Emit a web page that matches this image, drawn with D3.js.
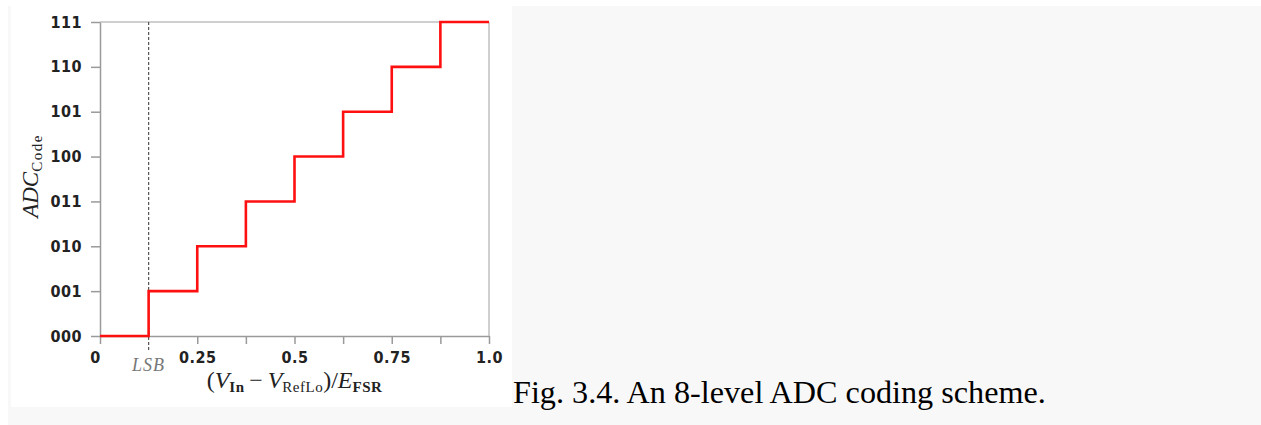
<!DOCTYPE html>
<html>
<head>
<meta charset="utf-8">
<script src="https://cdn.jsdelivr.net/npm/d3@7"></script>
<style>
  html, body { margin: 0; padding: 0; background: #fff; overflow: hidden; }
  svg { display: block; }
  .axis text { font-family: 'DejaVu Sans Condensed', 'DejaVu Sans', sans-serif; font-weight: bold; font-size: 16px; fill: #222; letter-spacing: 0.5px; }
  .axis path, .axis line { stroke: #9a9a9a; stroke-width: 1.5; }
  .math { font-family: 'Liberation Serif', 'DejaVu Serif', serif; fill: #222; }
</style>
</head>
<body>
<svg width="1261" height="425"></svg>
<script>
/* global d3:true */

// codes on the y axis, bottom to top
const codeLabels = ['000', '001', '010', '011', '100', '101', '110', '111']
// step edges along the normalised input, and the code held after each edge
const stepEdges = [0, 0.125, 0.25, 0.375, 0.5, 0.625, 0.75, 0.875, 1.0]
const stepCodes = [0, 1, 2, 3, 4, 5, 6, 7, 7]
// x axis ticks and their labels (blank ones are unlabelled ticks)
const xTickValues = [0, 0.125, 0.25, 0.375, 0.5, 0.625, 0.75, 0.875, 1.0]
const xTickLabels = ['0', '', '0.25', '', '0.5', '', '0.75', '', '1.0']
const lsb = 0.125
const lsbLabel = 'LSB'
const caption = 'Fig. 3.4. An 8-level ADC coding scheme.'

const svg = d3.select('svg')

// grey page panel and the white figure box
svg.append('rect').attr('x', 8).attr('y', 6).attr('width', 1253).attr('height', 419).attr('fill', '#f8f8f8')
svg.append('rect').attr('x', 11).attr('y', 6).attr('width', 501).attr('height', 401).attr('fill', '#fff')

const margin = { top: 22, right: 772, bottom: 89, left: 100 }
const width = 1261 - margin.left - margin.right
const height = 425 - margin.top - margin.bottom

const x = d3.scaleLinear().domain([0, 1]).range([0, width])
const y = d3.scaleLinear().domain([0, codeLabels.length - 1]).range([height, 0])

const g = svg.append('g')
  .attr('transform', 'translate(' + margin.left + ',' + margin.top + ')')

// light frame on top and right
g.append('line')
  .attr('x1', 0).attr('x2', width).attr('y1', 0).attr('y2', 0)
  .attr('stroke', '#cfcfcf').attr('stroke-width', 2)
g.append('line')
  .attr('x1', width).attr('x2', width).attr('y1', 0).attr('y2', height)
  .attr('stroke', '#cfcfcf').attr('stroke-width', 2)

g.append('g')
  .attr('class', 'axis axis--y')
  .call(d3.axisLeft(y)
    .tickValues(d3.range(codeLabels.length))
    .tickFormat((d) => codeLabels[d])
    .tickSize(9).tickSizeOuter(0).tickPadding(9))

const xAxis = g.append('g')
  .attr('class', 'axis axis--x')
  .attr('transform', 'translate(0,' + height + ')')
  .call(d3.axisBottom(x)
    .tickValues(xTickValues)
    .tickFormat((d, i) => xTickLabels[i])
    .tickSize(8).tickSizeOuter(0).tickPadding(8))
xAxis.selectAll('.tick text').filter((d) => d === 0).attr('dx', -5)
xAxis.selectAll('.tick').filter((d) => d === lsb).select('line').remove()

// dashed marker at one LSB
g.append('line')
  .attr('x1', x(lsb)).attr('x2', x(lsb))
  .attr('y1', 0).attr('y2', height + 16)
  .attr('stroke', '#555').attr('stroke-width', 1.2)
  .attr('stroke-dasharray', '3,2')

g.append('text')
  .attr('class', 'math')
  .attr('x', x(lsb)).attr('y', height + 35)
  .attr('text-anchor', 'middle')
  .attr('font-style', 'italic').attr('font-size', 18)
  .attr('letter-spacing', 1)
  .style('fill', '#777')
  .text(lsbLabel)

// transfer function
const steps = stepEdges.map((e, i) => [e, stepCodes[i]])
g.append('path')
  .datum(steps)
  .attr('fill', 'none')
  .attr('stroke', '#ff1010')
  .attr('stroke-width', 2.6)
  .attr('d', d3.line()
    .x((d) => x(d[0]))
    .y((d) => y(d[1]))
    .curve(d3.curveStepAfter))

// y axis title: ADC_Code
const yTitle = svg.append('text')
  .attr('class', 'math')
  .attr('transform', 'translate(38,176) rotate(-90)')
  .attr('text-anchor', 'middle')
yTitle.append('tspan').attr('font-style', 'italic').attr('font-size', 23).text('ADC')
yTitle.append('tspan').attr('font-size', 15).attr('dy', 4).attr('letter-spacing', 1.5).text('Code')

// x axis title: (V_In - V_RefLo)/E_FSR
const xTitle = svg.append('text')
  .attr('class', 'math')
  .attr('x', margin.left + width / 2).attr('y', 388)
  .attr('text-anchor', 'middle')
  .attr('font-size', 24)
xTitle.append('tspan').text('(')
xTitle.append('tspan').attr('font-style', 'italic').text('V')
xTitle.append('tspan').attr('font-size', 15).attr('font-weight', 'bold').attr('dy', 4).attr('letter-spacing', 0.5).text('In')
xTitle.append('tspan').attr('dy', -4).text('\u2009\u2212\u2009')
xTitle.append('tspan').attr('font-style', 'italic').text('V')
xTitle.append('tspan').attr('font-size', 15).attr('dy', 4).attr('letter-spacing', 0.5).text('RefLo')
xTitle.append('tspan').attr('dy', -4).text(')/')
xTitle.append('tspan').attr('font-style', 'italic').text('E')
xTitle.append('tspan').attr('font-size', 15).attr('font-weight', 'bold').attr('dy', 4).attr('letter-spacing', 0.5).text('FSR')

// caption beside the figure
svg.append('text')
  .attr('x', 513).attr('y', 403)
  .attr('font-family', "'Liberation Serif', 'Times New Roman', serif")
  .attr('font-size', 32.2)
  .attr('fill', '#000')
  .text(caption)
</script>
</body>
</html>
